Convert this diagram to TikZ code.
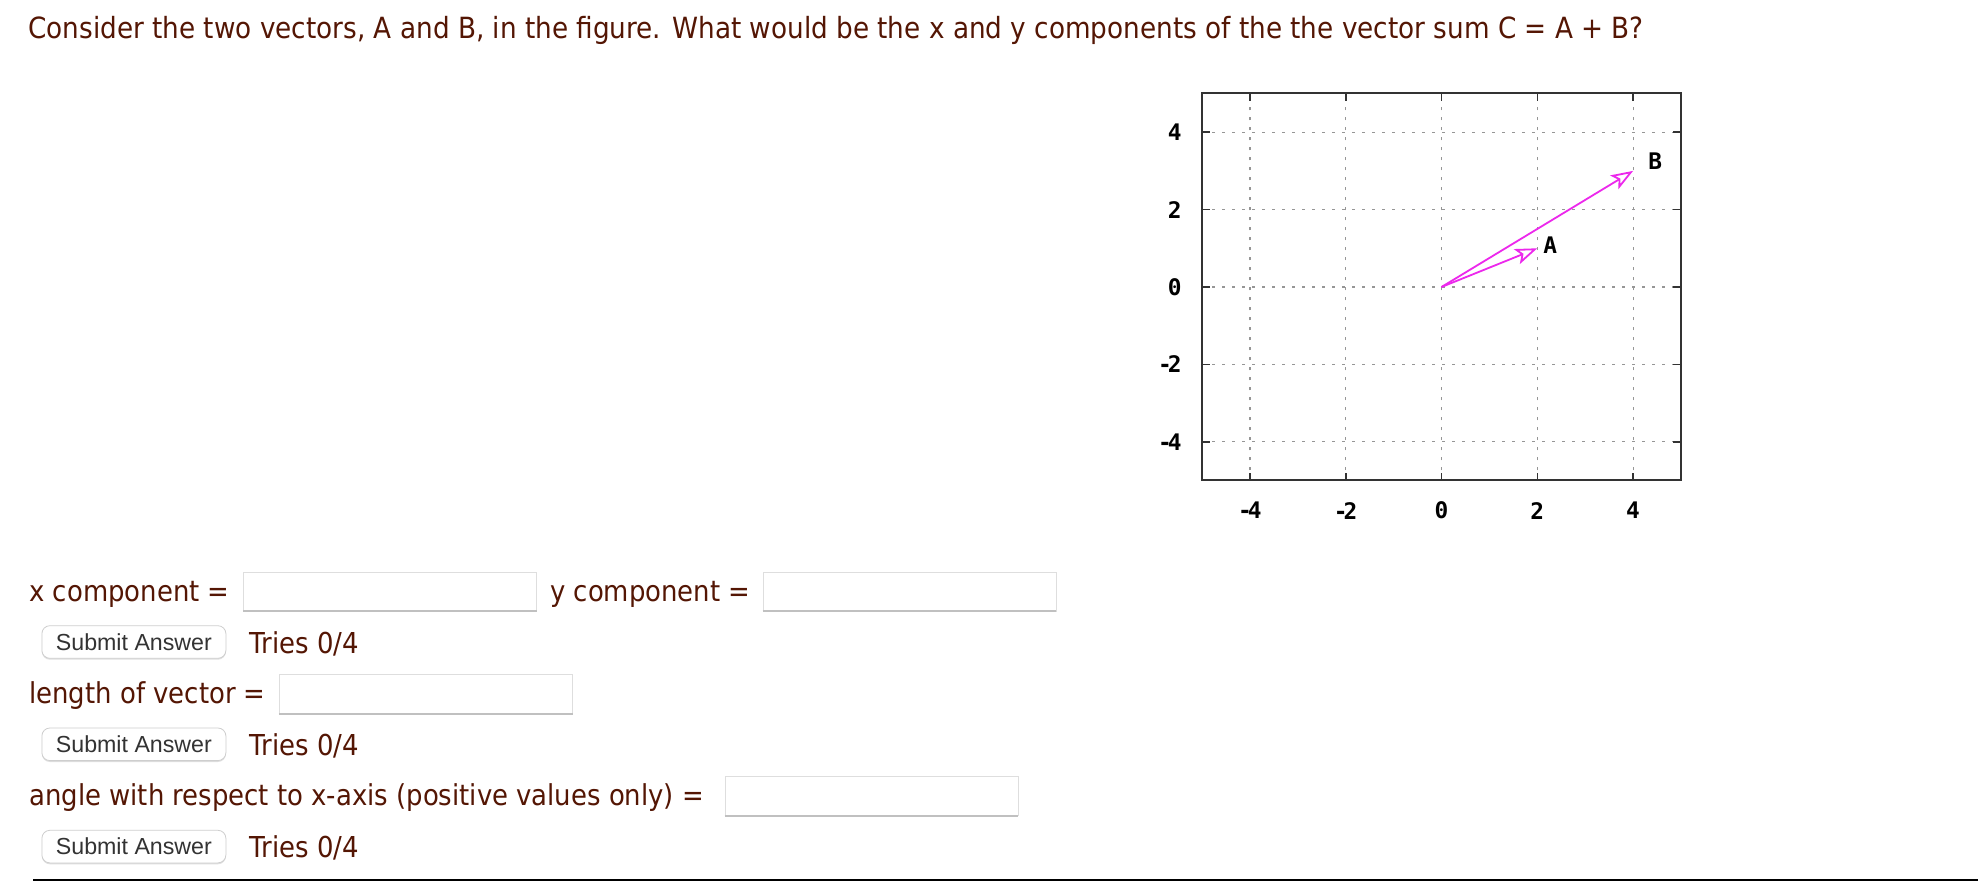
\documentclass[tikz,border=0pt]{standalone}
\usepackage{fontspec}
\setmainfont{DejaVu Sans}[FakeStretch=0.9]
\newfontfamily\buttonfont{Liberation Sans}
\newfontfamily\plotfont{DejaVu Sans Mono}
\usetikzlibrary{arrows.meta,shadows}

\definecolor{pagebrown}{RGB}{84,22,4}
\definecolor{boxedge}{RGB}{222,222,222}
\definecolor{boxshade}{RGB}{192,192,192}
\definecolor{btnedge}{RGB}{206,206,206}
\definecolor{btntext}{RGB}{51,51,51}
\definecolor{vecmagenta}{RGB}{236,40,236}
\definecolor{gridgray}{RGB}{150,150,150}

\tikzset{
  pagetext/.style={anchor=base west, inner sep=0pt, text=pagebrown, font=\fontsize{14.4}{17}\selectfont},
  answerbox/.style={draw=boxedge, fill=white, anchor=north west, inner sep=0pt, minimum width=146.5pt, minimum height=19.5pt},
  submitbtn/.style={draw=btnedge, fill=white, rounded corners=4pt, inner sep=0pt, minimum width=92pt, minimum height=16.3pt,
    text=btntext, font=\buttonfont\fontsize{11.6}{13}\selectfont, drop shadow={shadow xshift=0pt, shadow yshift=-0.7pt, opacity=0.25}},
  plotgrid/.style={gridgray, line width=0.6pt, dash pattern=on 1.5pt off 3.5pt},
  plotlabel/.style={inner sep=0pt, font=\plotfont\bfseries\fontsize{11.4}{12}\selectfont},
  vecarrow/.style={vecmagenta, line width=0.9pt, -{Stealth[open, length=11pt, width=8pt, inset=2.5pt]}},
}

\begin{document}
\begin{tikzpicture}[x=0.5pt,y=0.5pt,yscale=-1,xscale=1]
  \fill[white] (0,0) rectangle (1978,882);
  \useasboundingbox (0,0) rectangle (1978,882);

  % Text Node
  \node[pagetext, font=\fontsize{14.6}{17}\selectfont] (title) at (28,39) {Consider the two vectors, A and B, in the figure. What would be the x and y components of the the vector sum C = A + B?};

  % Text Node
  \node[pagetext] (xlab) at (29,601) {x component =};
  \node[answerbox] (xbox) at (243,571.5) {};
  \draw[boxshade, line width=1pt] (xbox.south west) -- (xbox.south east);
  % Text Node
  \node[pagetext] (ylab) at (549.8,601) {y component =};
  \node[answerbox] (ybox) at (762.5,571.5) {};
  \draw[boxshade, line width=1pt] (ybox.south west) -- (ybox.south east);
  \node[submitbtn] (btnone) at (133.9,642) {Submit Answer};
  \node[pagetext] (triesone) at (249.3,653.3) {Tries 0/4};

  % Text Node
  \node[pagetext] (lenlab) at (29,703.3) {length of vector =};
  \node[answerbox] (lenbox) at (278.8,673.8) {};
  \draw[boxshade, line width=1pt] (lenbox.south west) -- (lenbox.south east);
  \node[submitbtn] (btntwo) at (133.9,744.3) {Submit Answer};
  \node[pagetext] (triestwo) at (249.3,755.6) {Tries 0/4};

  % Text Node
  \node[pagetext] (anglab) at (29,805.6) {angle with respect to x-axis (positive values only) =};
  \node[answerbox] (angbox) at (724.5,776.1) {};
  \draw[boxshade, line width=1pt] (angbox.south west) -- (angbox.south east);
  \node[submitbtn] (btnthree) at (133.9,846.6) {Submit Answer};
  \node[pagetext] (triesthree) at (249.3,857.9) {Tries 0/4};

  %Shape: Line
  \draw[line width=1.25pt, black] (33,880) -- (1978,880);

  % Plot of the two vectors
  \begin{scope}[shift={(1441.5,287)}, x=23.95pt, y=-19.35pt]
    \foreach \v/\n/\t in {-4/a/{-\kern-2pt 4},-2/b/{-\kern-2pt 2},0/c/0,2/d/2,4/e/4} {
      \draw[plotgrid] (\v,-5) -- (\v,5);
      \draw[plotgrid] (-5,\v) -- (5,\v);
      \draw[line width=0.8pt, black!80] (\v,-5) -- ++(0,0.2) (\v,5) -- ++(0,-0.2)
        (-5,\v) -- ++(0.17,0) (5,\v) -- ++(-0.17,0);
      \node[plotlabel] (xtick\n) at (\v,-5.78) {\t};
      \node[plotlabel, anchor=east] (ytick\n) at (-5.42,\v) {\t};
    }
    \draw[line width=1pt, black!80] (-5,-5) rectangle (5,5);

    \coordinate (O) at (0,0);
    \coordinate (Atip) at (2,1);
    \coordinate (Btip) at (4,3);
    \draw[vecarrow] (O) -- (Atip);
    \draw[vecarrow] (O) -- (Btip);
    \node[plotlabel] (Alab) at (2.27,1.09) {A};
    \node[plotlabel] (Blab) at (4.46,3.24) {B};
  \end{scope}
\end{tikzpicture}
\end{document}
